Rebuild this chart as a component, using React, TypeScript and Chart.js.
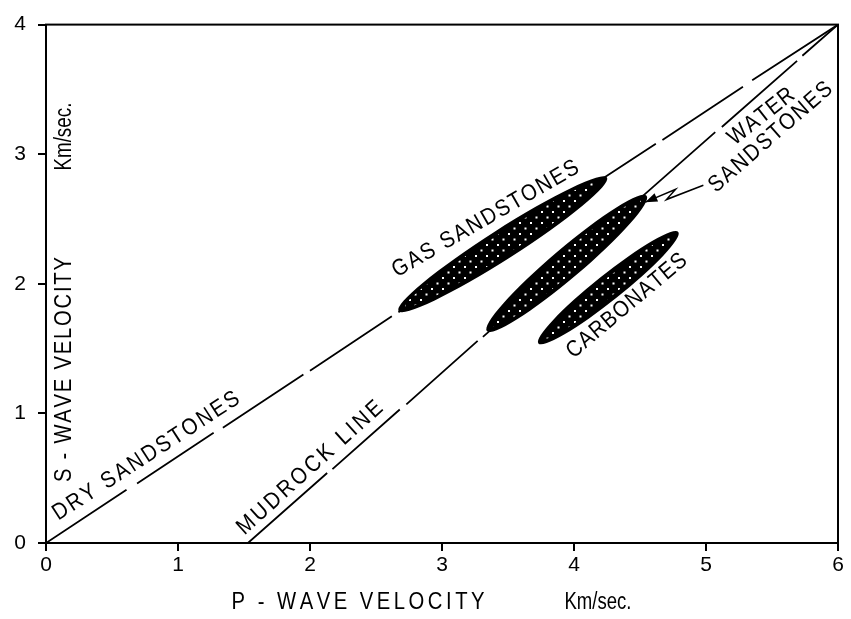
import React, { useEffect, useRef } from "react";
import { Chart, registerables } from "chart.js";

Chart.register(...registerables);

// ---------- data ----------
const xTickValues = [0, 1, 2, 3, 4, 5, 6];
const yTickValues = [0, 1, 2, 3, 4];

// Dry sandstones line (broken where the draughtsman left gaps); null = gap
const dryX = [0, 0.61, null, 0.69, 1.27, null, 1.34, 1.95, null, 2.0, 2.62, null, 2.67, 4.62, null, 4.67, 5.28, null, 5.35, 6];
const dryY = [0, 0.41, null, 0.46, 0.85, null, 0.89, 1.3, null, 1.33, 1.75, null, 1.78, 3.08, null, 3.11, 3.52, null, 3.57, 4];

// Mudrock line
const mudX = [1.53, 2.13, null, 2.17, 2.68, null, 2.73, 3.27, null, 3.31, 5.07, null, 5.12, 5.69, null, 5.73, 6];
const mudY = [0, 0.54, null, 0.57, 1.03, null, 1.07, 1.56, null, 1.59, 3.17, null, 3.21, 3.72, null, 3.76, 4];

// Rock fields (elongated stippled ellipses): end points in km/s
const zoneNames = ["GAS SANDSTONES", "WATER SANDSTONES", "CARBONATES"];
const zoneStartX = [2.67, 3.34, 3.73];
const zoneStartY = [1.79, 1.635, 1.54];
const zoneEndX = [4.25, 4.55, 4.79];
const zoneEndY = [2.82, 2.68, 2.4];

// Zig-zag pointer from the "WATER SANDSTONES" label
const arrowX = [4.98, 4.70, 4.77, 4.54];
const arrowY = [2.76, 2.65, 2.73, 2.63];

// Text annotations
const labelText = ["DRY SANDSTONES", "MUDROCK LINE", "GAS SANDSTONES", "CARBONATES", "WATER", "SANDSTONES"];
const labelX = [0.76, 2.0, 3.33, 4.4, 5.42, 5.49];
const labelY = [0.67, 0.58, 2.5, 1.83, 3.29, 3.13];

// ---------- styles ----------
const zoneThicknessPx = [30, 30, 26];
const labelAngleDeg = [33, 42, 30, 40, 38, 41];
const labelLengthPx = [218, 188, 212, 150, 78, 156];
const FONT = '"Liberation Sans", Arial, Helvetica, sans-serif';
const TEXT_SIZE = 23;
const TEXT_SQUEEZE = 0.88;

function toPoints(xs: (number | null)[], ys: (number | null)[]) {
  const pts: { x: number; y: number | null }[] = [];
  let lastX = 0;
  xs.forEach((xv, i) => {
    if (xv === null || ys[i] === null) {
      pts.push({ x: lastX, y: null });
    } else {
      lastX = xv;
      pts.push({ x: xv, y: ys[i] as number });
    }
  });
  return pts;
}

function spacedText(ctx: CanvasRenderingContext2D, text: string, cx: number, cy: number, angleDeg: number, target: number) {
  ctx.save();
  ctx.font = `${TEXT_SIZE}px ${FONT}`;
  ctx.fillStyle = "#000";
  ctx.textAlign = "left";
  ctx.textBaseline = "middle";
  const chars = Array.from(text);
  const widths = chars.map((c) => ctx.measureText(c).width * TEXT_SQUEEZE);
  const w = widths.reduce((a, b) => a + b, 0);
  let sp = chars.length > 1 ? (target - w) / (chars.length - 1) : 0;
  let sx = 1;
  if (sp < 0) {
    sx = target / w;
    sp = 0;
  }
  ctx.translate(cx, cy);
  ctx.rotate((-angleDeg * Math.PI) / 180);
  const total = sp === 0 ? w * sx : target;
  let xx = -total / 2;
  chars.forEach((c, i) => {
    ctx.save();
    ctx.translate(xx, 0);
    ctx.scale(TEXT_SQUEEZE * sx, 1);
    ctx.fillText(c, 0, 0);
    ctx.restore();
    xx += widths[i] * sx + sp;
  });
  ctx.restore();
}

function makeDotPattern(ctx: CanvasRenderingContext2D) {
  const c = document.createElement("canvas");
  c.width = 11;
  c.height = 11;
  const g = c.getContext("2d")!;
  g.fillStyle = "#fff";
  g.fillRect(2, 2, 2, 2);
  g.fillRect(7.5, 7.5, 2, 2);
  return ctx.createPattern(c, "repeat");
}

const geoPlugin = {
  id: "geoAnnotations",
  afterDatasetsDraw(chart: any) {
    const { ctx, chartArea, scales } = chart;
    const xs = scales.x;
    const ys = scales.y;
    const pat = makeDotPattern(ctx);

    // stippled fields
    zoneNames.forEach((_, i) => {
      const x1 = xs.getPixelForValue(zoneStartX[i]);
      const y1 = ys.getPixelForValue(zoneStartY[i]);
      const x2 = xs.getPixelForValue(zoneEndX[i]);
      const y2 = ys.getPixelForValue(zoneEndY[i]);
      const cx = (x1 + x2) / 2;
      const cy = (y1 + y2) / 2;
      const L = Math.hypot(x2 - x1, y2 - y1);
      const ang = Math.atan2(y2 - y1, x2 - x1);
      const h = zoneThicknessPx[i];
      ctx.save();
      ctx.beginPath();
      ctx.ellipse(cx, cy, L / 2, h / 2, ang, 0, Math.PI * 2);
      ctx.fillStyle = "#000";
      ctx.fill();
      ctx.beginPath();
      ctx.ellipse(cx, cy, L / 2 - 8, h / 2 - 4.5, ang, 0, Math.PI * 2);
      if (pat) {
        ctx.fillStyle = pat;
        ctx.fill();
      }
      ctx.restore();
    });

    // zig-zag pointer
    ctx.save();
    ctx.strokeStyle = "#000";
    ctx.lineWidth = 1.5;
    ctx.beginPath();
    arrowX.forEach((v, i) => {
      const px = xs.getPixelForValue(v);
      const py = ys.getPixelForValue(arrowY[i]);
      if (i === 0) ctx.moveTo(px, py);
      else ctx.lineTo(px, py);
    });
    ctx.stroke();
    const n = arrowX.length;
    const tx = xs.getPixelForValue(arrowX[n - 1]);
    const ty = ys.getPixelForValue(arrowY[n - 1]);
    const fx = xs.getPixelForValue(arrowX[n - 2]);
    const fy = ys.getPixelForValue(arrowY[n - 2]);
    const a = Math.atan2(ty - fy, tx - fx);
    ctx.beginPath();
    ctx.moveTo(tx, ty);
    ctx.lineTo(tx - 12 * Math.cos(a) + 4.5 * Math.sin(a), ty - 12 * Math.sin(a) - 4.5 * Math.cos(a));
    ctx.lineTo(tx - 12 * Math.cos(a) - 4.5 * Math.sin(a), ty - 12 * Math.sin(a) + 4.5 * Math.cos(a));
    ctx.closePath();
    ctx.fillStyle = "#000";
    ctx.fill();
    ctx.restore();

    // field / line labels
    labelText.forEach((t, i) => {
      spacedText(ctx, t, xs.getPixelForValue(labelX[i]), ys.getPixelForValue(labelY[i]), labelAngleDeg[i], labelLengthPx[i]);
    });

    // frame (top and right sides)
    ctx.save();
    ctx.strokeStyle = "#000";
    ctx.lineWidth = 2;
    ctx.strokeRect(chartArea.left, chartArea.top, chartArea.right - chartArea.left, chartArea.bottom - chartArea.top);
    ctx.restore();

    // axis titles
    const bottom = chartArea.bottom;
    spacedText(ctx, "P - WAVE VELOCITY", chartArea.left + 312, bottom + 60, 0, 253);
    spacedText(ctx, "Km/sec.", chartArea.left + 552, bottom + 60, 0, 67);
    spacedText(ctx, "S - WAVE VELOCITY", chartArea.left + 19, chartArea.top + 345, 90, 225);
    spacedText(ctx, "Km/sec.", chartArea.left + 19, chartArea.top + 112, 90, 68);
  },
};

export default function App() {
  const ref = useRef<HTMLCanvasElement | null>(null);

  useEffect(() => {
    if (!ref.current) return;
    const axisCommon = {
      type: "linear" as const,
      grid: { drawOnChartArea: false, drawTicks: true, tickLength: 8, color: "#000", lineWidth: 2 },
      border: { display: true, color: "#000", width: 2 },
    };
    const chart = new Chart(ref.current, {
      type: "line",
      data: {
        datasets: [
          {
            label: "Dry sandstones",
            data: toPoints(dryX, dryY) as any,
            borderColor: "#000",
            borderWidth: 1.8,
            pointRadius: 0,
            fill: false,
            spanGaps: false,
            tension: 0,
          },
          {
            label: "Mudrock line",
            data: toPoints(mudX, mudY) as any,
            borderColor: "#000",
            borderWidth: 1.8,
            pointRadius: 0,
            fill: false,
            spanGaps: false,
            tension: 0,
          },
        ],
      },
      options: {
        animation: false,
        responsive: false,
        devicePixelRatio: 1,
        layout: { padding: { top: 17, right: 13, left: 0, bottom: 0 } },
        plugins: { legend: { display: false }, tooltip: { enabled: false }, title: { display: false } },
        scales: {
          x: {
            ...axisCommon,
            min: 0,
            max: 6,
            afterBuildTicks: (s: any) => {
              s.ticks = xTickValues.map((v) => ({ value: v }));
            },
            afterFit: (s: any) => {
              s.height = 76;
            },
            ticks: { color: "#000", font: { family: FONT, size: 21 }, padding: 2, maxRotation: 0, autoSkip: false },
          },
          y: {
            ...axisCommon,
            min: 0,
            max: 4,
            afterBuildTicks: (s: any) => {
              s.ticks = yTickValues.map((v) => ({ value: v }));
            },
            afterFit: (s: any) => {
              s.width = 46;
            },
            ticks: { color: "#000", font: { family: FONT, size: 21 }, padding: 12, autoSkip: false },
          },
        },
      } as any,
      plugins: [geoPlugin],
    });
    return () => chart.destroy();
  }, []);

  return (
    <div style={{ position: "absolute", left: 0, top: 0, width: 851, height: 619, background: "#fff" }}>
      <canvas ref={ref} width={851} height={619} style={{ display: "block", width: 851, height: 619 }} />
    </div>
  );
}
